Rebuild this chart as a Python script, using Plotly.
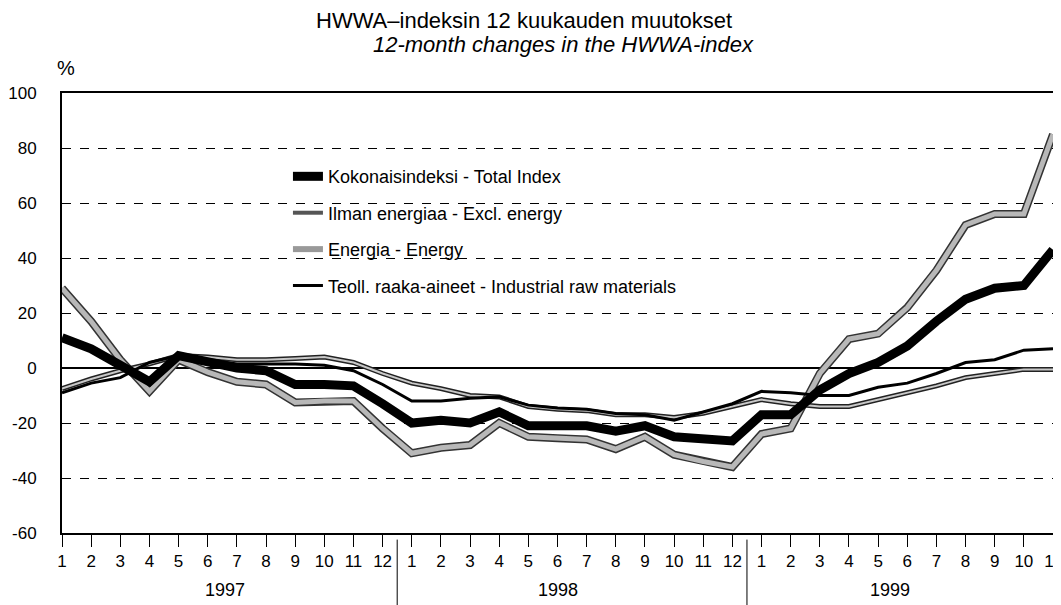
import plotly.graph_objs as go

# Kuukaudet 1/1997 - 11/1999
month_labels = [str(m) for m in range(1, 13)] * 2 + [str(m) for m in range(1, 12)]
years = ["1997", "1998", "1999"]
year_centers = [5.6, 17.0, 28.4]
year_breaks = [11.5, 23.5]
y_ticks = [-60, -40, -20, 0, 20, 40, 60, 80, 100]
y_tick_labels = ["-60", "-40", "-20", "0", "20", "40", "60", "80", "100"]

total_index = [11, 7, 1, -5, 4.5, 2, 0, -1, -6, -6, -6.5, -13,
               -20, -19, -20, -16, -21, -21, -21, -23, -21, -25, -26, -26.5,
               -17, -17, -8, -2, 2, 8, 17, 25, 29, 30, 43]
excl_energy = [-7.5, -4, -1, 1.5, 4.5, 4, 3, 3, 3.5, 4, 2, -2,
               -5.5, -7.5, -10, -10.5, -14, -15, -15.5, -17, -17, -18, -16.5, -14,
               -11.5, -13, -14, -14, -11.5, -9, -6.5, -3.5, -2, -0.5, -0.5]
energy = [29, 17, 3, -8.5, 3, -1.5, -5, -6, -12.5, -12, -12, -22,
          -31, -29, -28, -20, -25, -25.5, -26, -29.5, -25, -31.5, -34, -36,
          -24, -22, -2, 10.5, 12.5, 22, 35.5, 52, 56, 56, 85]
raw_materials = [-9, -5.5, -3.5, 2, 4.5, 3, 1.5, 1.5, 1.5, 1, -1, -6,
                 -12, -12, -11, -10.5, -13.5, -14.5, -15, -16.5, -17, -19, -16, -13,
                 -8.5, -9, -10, -10, -7, -5.5, -2, 2, 3, 6.5, 7]

x = list(range(len(month_labels)))
FONT = "Liberation Sans, Arial, sans-serif"

fig = go.Figure()

# Energia: harmaa viiva tummalla reunalla
fig.add_trace(go.Scatter(x=x, y=energy, mode="lines", showlegend=False,
                         line=dict(color="#333333", width=8), hoverinfo="skip"))
fig.add_trace(go.Scatter(x=x, y=energy, mode="lines", showlegend=False,
                         line=dict(color="#b8b8b8", width=5)))
# Ilman energiaa
fig.add_trace(go.Scatter(x=x, y=excl_energy, mode="lines", showlegend=False,
                         line=dict(color="#222222", width=5), hoverinfo="skip"))
fig.add_trace(go.Scatter(x=x, y=excl_energy, mode="lines", showlegend=False,
                         line=dict(color="#c8c8c8", width=2)))
# Teoll. raaka-aineet
fig.add_trace(go.Scatter(x=x, y=raw_materials, mode="lines", showlegend=False,
                         line=dict(color="black", width=3)))
# Kokonaisindeksi
fig.add_trace(go.Scatter(x=x, y=total_index, mode="lines", showlegend=False,
                         line=dict(color="black", width=9)))

# Selitteet omina jäljinä (järjestys kuten alkuperäisessä)
legend_items = [
    ("Kokonaisindeksi - Total Index", "black", 9),
    ("Ilman energiaa - Excl. energy", "#555555", 4),
    ("Energia - Energy", "#999999", 6),
    ("Teoll. raaka-aineet - Industrial raw materials", "black", 3),
]
for i, (name, color, width) in enumerate(legend_items):
    fig.add_trace(go.Scatter(x=[None], y=[None], mode="lines", name=name,
                             legendgroup=f"g{i}",
                             line=dict(color=color, width=width)))

# Vuosien erottimet ja vuosiotsikot
for b in year_breaks:
    fig.add_shape(type="line", xref="x", yref="paper", x0=b, x1=b, y0=-0.015, y1=-0.165,
                  line=dict(color="black", width=1))
annotations = [
    dict(text=yr, x=xc, y=-0.13, xref="x", yref="paper", showarrow=False,
         yanchor="middle", font=dict(size=18, family=FONT, color="black"))
    for yr, xc in zip(years, year_centers)
]
annotations += [
    dict(text="%", x=-0.007, y=1.057, xref="paper", yref="paper",
         xanchor="left", yanchor="middle", showarrow=False,
         font=dict(size=20, family=FONT, color="black")),
    dict(text="HWWA–indeksin 12 kuukauden muutokset", x=0.466, y=1.165,
         xref="paper", yref="paper", xanchor="center", yanchor="middle",
         showarrow=False, font=dict(size=22, family=FONT, color="black")),
    dict(text="<i>12-month changes in the HWWA-index</i>", x=0.506, y=1.11,
         xref="paper", yref="paper", xanchor="center", yanchor="middle",
         showarrow=False, font=dict(size=22, family=FONT, color="black")),
]

# sivun 8 px marginaali huomioitu koossa
fig.update_layout(
    width=1061,
    height=597,
    plot_bgcolor="white",
    paper_bgcolor="white",
    font=dict(family=FONT, color="black", size=16),
    margin=dict(l=54, r=16, t=85, b=72, autoexpand=False),
    legend=dict(
        x=0.228, y=0.852, xanchor="left", yanchor="top",
        bgcolor="rgba(0,0,0,0)", font=dict(size=18, family=FONT),
        tracegroupgap=10, itemwidth=30, traceorder="grouped",
    ),
    annotations=annotations,
    xaxis=dict(
        tickmode="array", tickvals=x, ticktext=month_labels,
        range=[0, len(x) - 1], showgrid=False, zeroline=False,
        ticks="outside", ticklen=12, tickcolor="black",
        showline=True, linecolor="black", linewidth=2, mirror=True,
        tickfont=dict(size=17), automargin=False,
    ),
    yaxis=dict(
        range=[-60, 100], tickmode="array", tickvals=y_ticks, ticktext=y_tick_labels,
        showgrid=True, gridcolor="black", griddash="dash", gridwidth=1,
        zeroline=True, zerolinecolor="black", zerolinewidth=1.5,
        showline=True, linecolor="black", linewidth=2, mirror=True,
        ticks="inside", ticklen=4, tickcolor="black",
        tickfont=dict(size=17), ticklabelstandoff=20, automargin=False,
    ),
)

fig.write_html("out.html")
